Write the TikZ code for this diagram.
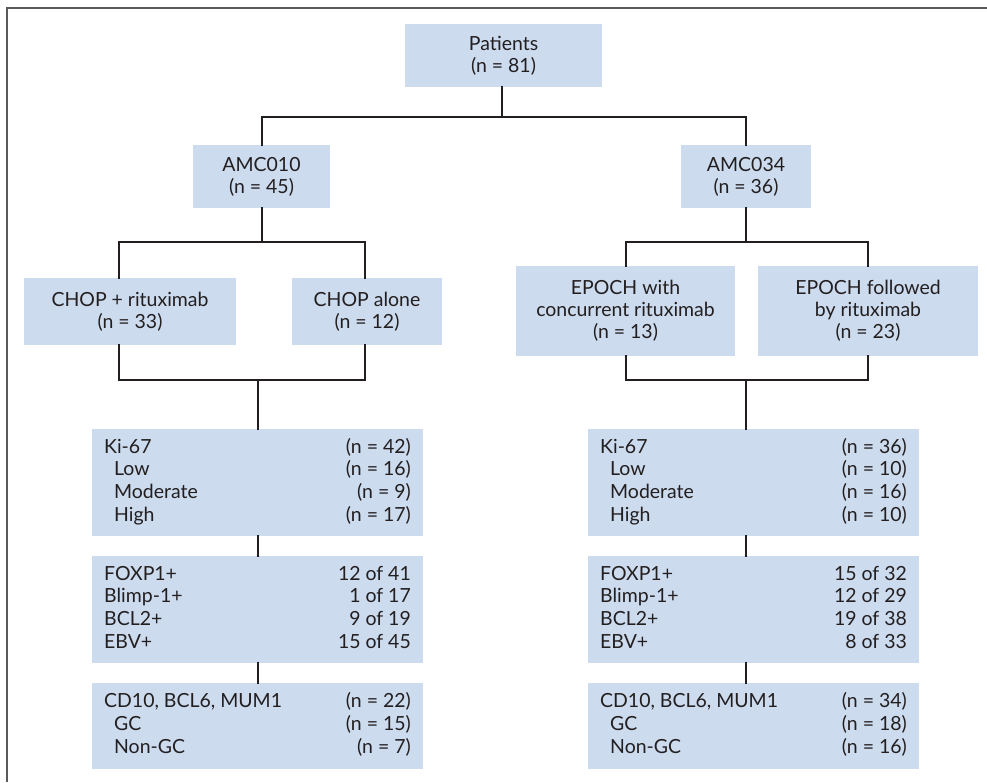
\documentclass[tikz,border=0pt]{standalone}
\usepackage{fontspec}
\setmainfont{Lato}
\usepackage{array}
\definecolor{boxfill}{HTML}{CCDBEE}
\definecolor{ink}{HTML}{231F20}
\definecolor{framecol}{HTML}{5A5A5A}
\newcommand{\rowtab}[1]{{\fontsize{14.6}{17}\selectfont\begin{tabular*}{230pt}{@{}l@{\extracolsep{\fill}}r@{}}#1\end{tabular*}}}
\newcommand{\ind}{\hspace*{7.5pt}}
\begin{document}
\begin{tikzpicture}[x=0.75pt,y=-0.75pt,
  box/.style={fill=boxfill, text=ink, inner sep=0pt, align=center, font=\fontsize{14.6}{16.5}\selectfont},
  conn/.style={draw=ink, line width=1.5pt, line join=miter, line cap=rect},
  framel/.style={draw=framecol, line width=1.1pt}]
\useasboundingbox (0,0) rectangle (987,782);
\draw[framel] (7,782) -- (7,8) -- (987,8);
% level 0
\node[box, minimum width=147.75pt, minimum height=47.25pt] (pat) at (503.5,55.5) {Patients\\(n = 81)};
% level 1
\node[box, minimum width=102.75pt, minimum height=47.25pt] (amcA) at (261.5,176.5) {AMC010\\(n = 45)};
\node[box, minimum width=97.5pt, minimum height=47.25pt] (amcB) at (746,176.5) {AMC034\\(n = 36)};
% level 2
\node[box, minimum width=159pt, minimum height=50.25pt] (chopr) at (130,311.5) {CHOP + rituximab\\(n = 33)};
\node[box, minimum width=112.5pt, minimum height=50.25pt] (chopa) at (367,311.5) {CHOP alone\\(n = 12)};
\node[box, minimum width=164.25pt, minimum height=67.5pt] (epw) at (625.5,311) {EPOCH with\\concurrent rituximab\\(n = 13)};
\node[box, minimum width=165pt, minimum height=67.5pt] (epf) at (868,311) {EPOCH followed\\by rituximab\\(n = 23)};
% level 3 left
\node[box, minimum width=248.25pt, minimum height=80.25pt] (kiA) at (257.5,482.5) {\rowtab{Ki-67 & (n = 42)\\ \ind Low & (n = 16)\\ \ind Moderate & (n = 9)\\ \ind High & (n = 17)}};
\node[box, minimum width=248.25pt, minimum height=80.25pt] (mkA) at (257.5,609.5) {\rowtab{FOXP1+ & 12 of 41\\ Blimp-1+ & 1 of 17\\ BCL2+ & 9 of 19\\ EBV+ & 15 of 45}};
\node[box, minimum width=248.25pt, minimum height=64.5pt] (cdA) at (257.5,726) {\rowtab{CD10, BCL6, MUM1 & (n = 22)\\ \ind GC & (n = 15)\\ \ind Non-GC & (n = 7)}};
% level 3 right
\node[box, minimum width=248.25pt, minimum height=80.25pt] (kiB) at (753.5,482.5) {\rowtab{Ki-67 & (n = 36)\\ \ind Low & (n = 10)\\ \ind Moderate & (n = 16)\\ \ind High & (n = 10)}};
\node[box, minimum width=248.25pt, minimum height=80.25pt] (mkB) at (753.5,609.5) {\rowtab{FOXP1+ & 15 of 32\\ Blimp-1+ & 12 of 29\\ BCL2+ & 19 of 38\\ EBV+ & 8 of 33}};
\node[box, minimum width=248.25pt, minimum height=64.5pt] (cdB) at (753.5,726) {\rowtab{CD10, BCL6, MUM1 & (n = 34)\\ \ind GC & (n = 18)\\ \ind Non-GC & (n = 16)}};
% junctions
\coordinate (j0) at (502,117);
\coordinate (jA) at (261.5,242);
\coordinate (jB) at (746,242);
\coordinate (jAl) at (119,242);
\coordinate (jAr) at (365,242);
\coordinate (kAl) at (119,380);
\coordinate (kAr) at (365,380);
\coordinate (kA) at (258,380);
\coordinate (kB) at (746,380);
% connectors
\draw[conn] (pat.south -| j0) -- (j0);
\draw[conn] (amcA.north) |- (j0) -| (amcB.north);
\draw[conn] (amcA.south) -- (jA);
\draw[conn] (jAl |- chopr.north) -- (jAl) -- (jAr) -- (jAr |- chopa.north);
\draw[conn] (jAl |- chopr.south) -- (kAl) -- (kAr) -- (kAr |- chopa.south);
\draw[conn] (kA) -- (kA |- kiA.north);
\draw[conn] (amcB.south) -- (jB);
\draw[conn] (epw.north) |- (jB) -| (epf.north);
\draw[conn] (epw.south) |- (kB) -| (epf.south);
\draw[conn] (kB) -- (kB |- kiB.north);
\draw[conn] (kiA.south -| kA) -- (kA |- mkA.north);
\draw[conn] (mkA.south -| kA) -- (kA |- cdA.north);
\draw[conn] (kiB.south -| kB) -- (kB |- mkB.north);
\draw[conn] (mkB.south -| kB) -- (kB |- cdB.north);
\end{tikzpicture}
\end{document}
